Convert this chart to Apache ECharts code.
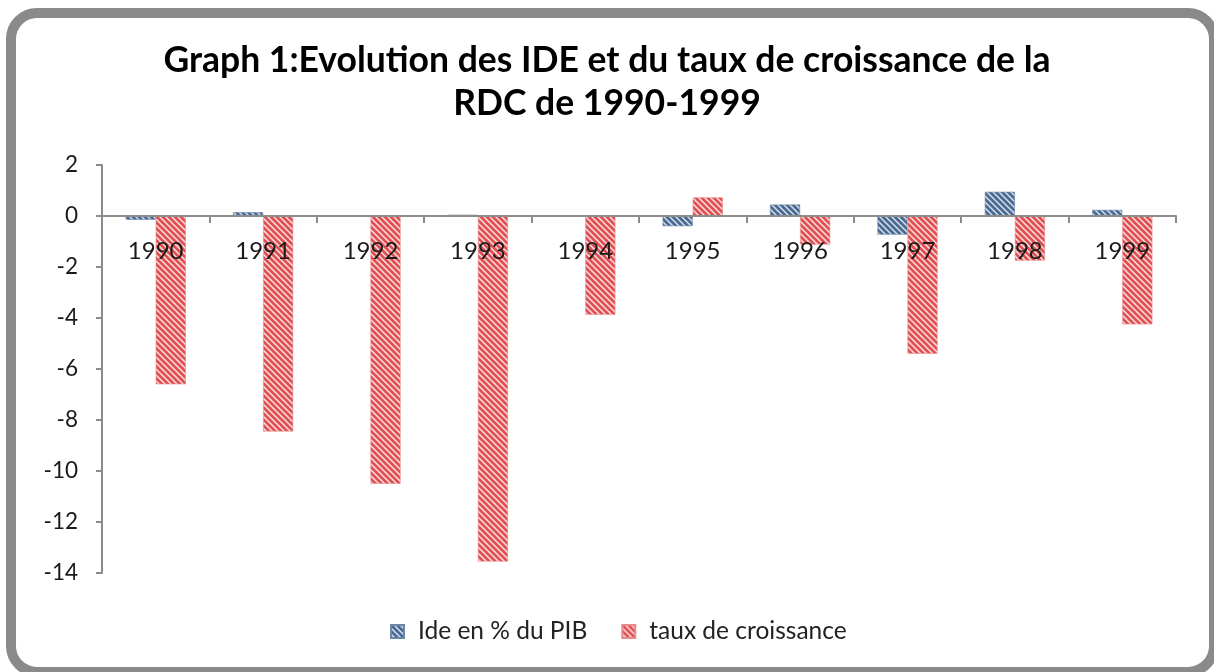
<!DOCTYPE html>
<html>
<head>
<meta charset="utf-8">
<script src="https://cdn.jsdelivr.net/npm/echarts@6/dist/echarts.min.js"></script>
<style>
html,body{margin:0;padding:0;background:#fff;}
#chart{width:1214px;height:672px;}
</style>
</head>
<body>
<div id="chart"></div>
<script>
const titleLines = ['Graph 1:Evolution des IDE et du taux de croissance de la', 'RDC de 1990-1999'];
const categories = ['1990','1991','1992','1993','1994','1995','1996','1997','1998','1999'];
const seriesNames = ['Ide en % du PIB', 'taux de croissance'];
const ideValues = [-0.15, 0.15, 0, 0.05, 0, -0.4, 0.45, -0.73, 0.95, 0.24];
const croissanceValues = [-6.6, -8.45, -10.5, -13.55, -3.87, 0.73, -1.12, -5.4, -1.75, -4.25];
const yTicks = { min: -14, max: 2, interval: 2 };

function makePattern(bg, stripe) {
  const c = document.createElement('canvas');
  const s = 6;
  c.width = s; c.height = s;
  const ctx = c.getContext('2d');
  ctx.fillStyle = bg;
  ctx.fillRect(0, 0, s, s);
  ctx.strokeStyle = stripe;
  ctx.lineWidth = 2.8;
  ctx.beginPath();
  ctx.moveTo(-1, -1); ctx.lineTo(s + 1, s + 1);
  ctx.moveTo(-s - 1, -1); ctx.lineTo(1, s + 1);
  ctx.moveTo(s - 1, -1); ctx.lineTo(2 * s + 1, s + 1);
  ctx.stroke();
  return c;
}
const bluePat = makePattern('#d6e1ee', '#4a6a92');
const redPat = makePattern('#fde2e2', '#e04f52');

const chart = echarts.init(document.getElementById('chart'));
const font = 'Lato, "Open Sans", sans-serif';
const gridTop = 165, gridBottomPx = 99, plotH = 672 - gridTop - gridBottomPx;
const zeroOffset = -plotH * (0 - yTicks.min) / (yTicks.max - yTicks.min);

chart.setOption({
  animation: false,
  backgroundColor: '#fff',
  graphic: [{
    type: 'rect',
    shape: { x: 11, y: 13, width: 1203, height: 659, r: 26 },
    style: { fill: 'none', stroke: '#8a8a8a', lineWidth: 10 },
    silent: true,
    z: -1
  }],
  title: {
    text: titleLines.join('\n'),
    left: 'center',
    top: 34,
    textStyle: { fontFamily: font, fontWeight: 'bold', fontSize: 35.5, lineHeight: 43, color: '#000', align: 'center' }
  },
  legend: {
    bottom: 23,
    left: 385,
    itemWidth: 13,
    itemHeight: 13,
    itemGap: 34,
    icon: 'rect',
    textStyle: { fontFamily: font, fontSize: 24.5, color: '#222', padding: [0, 0, 0, 9] },
    data: seriesNames
  },
  grid: { left: 102, right: 38, top: gridTop, bottom: gridBottomPx, containLabel: false },
  xAxis: [{
    type: 'category',
    data: categories,
    z: 10,
    axisLine: { onZero: true, lineStyle: { color: '#8c8c8c', width: 2 } },
    axisTick: { show: true, length: 7, lineStyle: { color: '#8c8c8c', width: 2 } },
    axisLabel: { show: false }
  }, {
    type: 'category',
    data: categories,
    position: 'bottom',
    offset: zeroOffset,
    z: 10,
    axisLine: { show: false, onZero: false },
    axisTick: { show: false },
    axisLabel: { fontFamily: font, fontSize: 24, color: '#1a1a1a', margin: 23 }
  }],
  yAxis: {
    type: 'value',
    min: yTicks.min,
    max: yTicks.max,
    interval: yTicks.interval,
    axisLine: { show: true, lineStyle: { color: '#8c8c8c', width: 2 } },
    axisTick: { show: true, inside: false, length: 6, lineStyle: { color: '#8c8c8c', width: 2 } },
    splitLine: { show: false },
    axisLabel: { fontFamily: font, fontSize: 22.5, color: '#1a1a1a', margin: 24 }
  },
  series: [
    {
      name: seriesNames[0], type: 'bar', data: ideValues, xAxisIndex: 0,
      barGap: '0%', barCategoryGap: '44%',
      itemStyle: { color: { image: bluePat, repeat: 'repeat' }, borderColor: '#6d86a6', borderWidth: 0.6 }
    },
    {
      name: seriesNames[1], type: 'bar', data: croissanceValues, xAxisIndex: 0,
      barGap: '0%', barCategoryGap: '44%',
      itemStyle: { color: { image: redPat, repeat: 'repeat' }, borderColor: '#e88a8a', borderWidth: 0.6 }
    }
  ]
});
</script>
</body>
</html>
